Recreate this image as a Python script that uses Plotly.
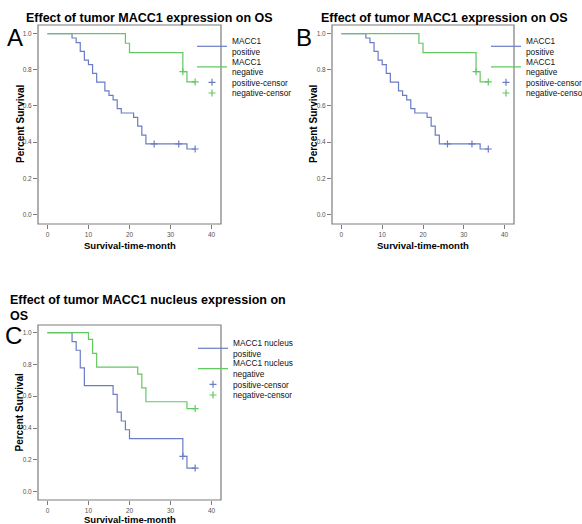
import plotly.graph_objects as go

# ---------------- data ----------------
# Panels A and B (same data): MACC1 expression
pos_months = [0, 6, 7, 8, 9, 10, 11, 12, 14, 15, 16, 17, 18, 21, 22, 23, 24, 34, 36]
pos_surv = [1.0, 0.976, 0.951, 0.902, 0.854, 0.829, 0.780, 0.732, 0.683, 0.659,
            0.634, 0.585, 0.561, 0.537, 0.488, 0.439, 0.390, 0.362, 0.362]
pos_censor_months = [26, 32, 36]
pos_censor_surv = [0.390, 0.390, 0.362]

neg_months = [0, 19, 20, 33, 34, 36]
neg_surv = [1.0, 0.947, 0.895, 0.790, 0.733, 0.733]
neg_censor_months = [33, 36]
neg_censor_surv = [0.790, 0.733]

# Panel C: MACC1 nucleus expression
nuc_pos_months = [0, 6, 7, 8, 9, 16, 17, 18, 19, 20, 33, 34, 36]
nuc_pos_surv = [1.0, 0.944, 0.889, 0.778, 0.667, 0.611, 0.500, 0.444, 0.389,
                0.333, 0.222, 0.148, 0.148]
nuc_pos_censor_months = [33, 36]
nuc_pos_censor_surv = [0.222, 0.148]

nuc_neg_months = [0, 10, 11, 12, 22, 23, 24, 34, 36]
nuc_neg_surv = [1.0, 0.957, 0.870, 0.783, 0.739, 0.652, 0.565, 0.522, 0.522]
nuc_neg_censor_months = [36]
nuc_neg_censor_surv = [0.522]

y_ticks = [0.0, 0.2, 0.4, 0.6, 0.8, 1.0]
x_ticks = [0, 10, 20, 30, 40]

title_ab = "Effect of tumor MACC1 expression on OS"
title_c = "Effect of tumor MACC1 nucleus expression on<br>OS"
names_ab = ["MACC1<br>positive", "MACC1<br>negative", "positive-censor", "negative-censor"]
names_c = ["MACC1 nucleus<br>positive", "MACC1 nucleus<br>negative", "positive-censor", "negative-censor"]

# ---------------- styling ----------------
W, H = 582, 524
FONT = "Liberation Sans, Arial, sans-serif"
BLUE = "#6a7cc6"
GREEN = "#62c862"
FRAME = "#7c7c7c"


def px_x(p):
    return p / W


def px_y(p):
    return 1 - p / H


fig = go.Figure()

panels = [
    dict(ax="", data=(pos_months, pos_surv, neg_months, neg_surv,
                      pos_censor_months, pos_censor_surv, neg_censor_months, neg_censor_surv),
         names=names_ab, frame=(38, 221, 25, 224), leg_x=232, leg_y=[46.5, 67.0, 82.3, 93.0]),
    dict(ax="2", data=(pos_months, pos_surv, neg_months, neg_surv,
                       pos_censor_months, pos_censor_surv, neg_censor_months, neg_censor_surv),
         names=names_ab, frame=(332, 514, 25, 224), leg_x=526, leg_y=[46.5, 67.0, 82.3, 93.0]),
    dict(ax="3", data=(nuc_pos_months, nuc_pos_surv, nuc_neg_months, nuc_neg_surv,
                       nuc_pos_censor_months, nuc_pos_censor_surv,
                       nuc_neg_censor_months, nuc_neg_censor_surv),
         names=names_c, frame=(38, 221, 325, 500), leg_x=233, leg_y=[348.5, 368.8, 384.3, 395.0]),
]

legend_layouts = {}
leg_counter = 0
for p in panels:
    pm, ps, nm, ns, pcm, pcs, ncm, ncs = p["data"]
    xa = "x" + p["ax"]
    ya = "y" + p["ax"]
    traces = [
        dict(x=pm, y=ps, mode="lines", line=dict(color=BLUE, width=1.2, shape="hv")),
        dict(x=nm, y=ns, mode="lines", line=dict(color=GREEN, width=1.2, shape="hv")),
        dict(x=pcm, y=pcs, mode="markers",
             marker=dict(symbol="cross-thin", size=5, line=dict(color=BLUE, width=1.2))),
        dict(x=ncm, y=ncs, mode="markers",
             marker=dict(symbol="cross-thin", size=5, line=dict(color=GREEN, width=1.2))),
    ]
    for i, t in enumerate(traces):
        leg_counter += 1
        lid = "legend" if leg_counter == 1 else f"legend{leg_counter}"
        fig.add_trace(go.Scatter(name=p["names"][i], xaxis=xa, yaxis=ya,
                                 legend=lid, showlegend=True, **t))
        legend_layouts[lid] = dict(
            x=px_x(p["leg_x"] - 40), y=px_y(p["leg_y"][i]),
            xanchor="left", yanchor="middle",
            xref="paper", yref="paper",
            bgcolor="rgba(0,0,0,0)", borderwidth=0,
            font=dict(family=FONT, size=8.3, color="#111"),
            valign="middle", itemwidth=30,
        )

layout = dict(
    width=W, height=H, autosize=False,
    margin=dict(l=0, r=0, t=0, b=0, autoexpand=False),
    paper_bgcolor="white", plot_bgcolor="white",
    showlegend=True,
)

shapes = []
for p in panels:
    l, r, t, b = p["frame"]
    for key, dom, rng, tv, anch in [
        ("xaxis" + p["ax"], [px_x(l), px_x(r)], [-2.3, 42.3], x_ticks, "y" + p["ax"]),
        ("yaxis" + p["ax"], [px_y(b), px_y(t)], [-0.053, 1.048], y_ticks, "x" + p["ax"]),
    ]:
        layout[key] = dict(
            domain=dom, range=rng, tickvals=tv, anchor=anch,
            showline=False,
            ticks="outside", ticklen=4, tickcolor=FRAME, tickwidth=1.2,
            showgrid=False, zeroline=False,
            tickfont=dict(family=FONT, size=6.5, color="#555"),
        )
    layout["yaxis" + p["ax"]]["tickformat"] = ".1f"
    # plot frame drawn on the subplot's own domain
    shapes.append(dict(type="rect", xref=f"x{p['ax']} domain", yref=f"y{p['ax']} domain",
                       x0=0, x1=1, y0=0, y1=1, line=dict(color=FRAME, width=1.2),
                       fillcolor="rgba(0,0,0,0)", layer="above"))

layout["shapes"] = shapes
layout.update(legend_layouts)
fig.update_layout(**layout)

ann = []


def add_text(text, x, y, size, bold=False, xanchor="center", yanchor="middle",
             align="center", angle=0):
    ann.append(dict(text=text, x=px_x(x), y=px_y(y), xref="paper", yref="paper",
                    showarrow=False, xanchor=xanchor, yanchor=yanchor, align=align,
                    textangle=angle, borderpad=0,
                    font=dict(family=FONT, size=size, color="black",
                              weight="bold" if bold else "normal")))


# titles
add_text(title_ab, 150, 18, 12.5, bold=True)
add_text(title_ab, 444, 18, 12.5, bold=True)
add_text(title_c, 9, 307.5, 12.5, bold=True, xanchor="left", align="left")
# panel letters
add_text("A", 14.5, 38, 24)
add_text("B", 304, 38, 24)
add_text("C", 13, 335, 24)
# axis titles
for cx, cy in [(130, 245), (423, 245), (130, 519)]:
    add_text("Survival-time-month", cx, cy, 9.5, bold=True)
for cx, cy in [(20, 124), (313, 124), (19, 412.5)]:
    add_text("Percent Survival", cx, cy, 10, bold=True, angle=-90)

fig.update_layout(annotations=ann)
fig.write_html("out.html", config={"displayModeBar": False},
               post_script="document.body.style.margin='0px';")
